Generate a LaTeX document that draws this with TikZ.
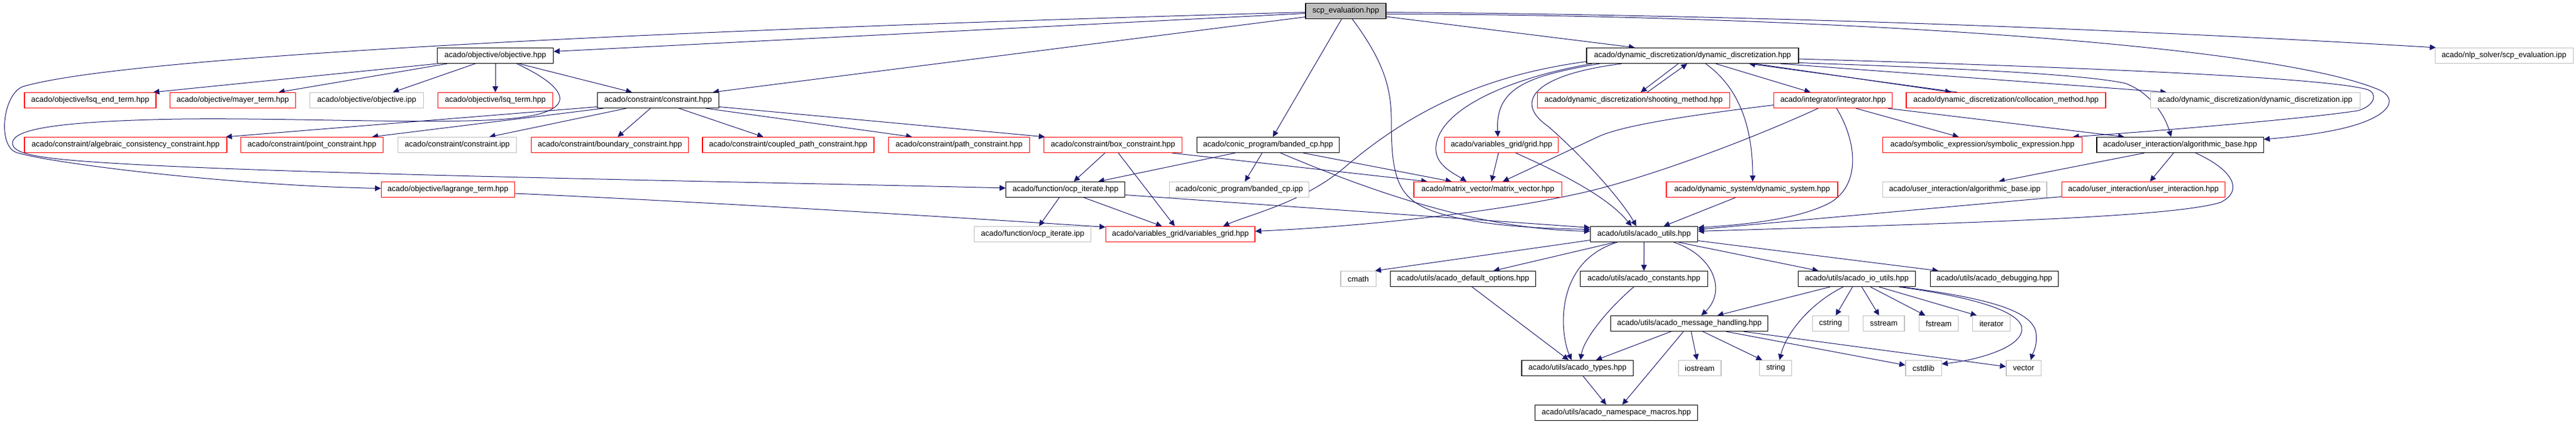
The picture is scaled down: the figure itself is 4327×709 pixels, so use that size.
\documentclass[tikz,border=0pt]{standalone}
\usepackage{fontspec}
\setmainfont{Liberation Sans}
\usetikzlibrary{arrows.meta,backgrounds}
\definecolor{edgec}{HTML}{191970}
\definecolor{grayc}{HTML}{BFBFBF}
\tikzset{
 nd/.style={draw, rectangle, inner sep=0pt, minimum height=26pt, line width=1.1pt, fill=white, font=\fontsize{13}{15}\selectfont},
 blk/.style={nd, draw=black},
 redn/.style={nd, draw=red},
 gryn/.style={nd, draw=grayc},
 rootn/.style={nd, draw=black, fill=grayc},
 e/.style={draw=edgec, line width=1pt, -{Triangle[length=10pt,width=9.5pt]}},
}
\begin{document}
\begin{tikzpicture}[x=1pt,y=-1pt]
\useasboundingbox (0,0) rectangle (4327,709);
% row 0
\node[rootn, minimum width=135pt] (S) at (2260.5,18.5) {scp\_evaluation.hpp};
% row 1
\node[blk, minimum width=195pt] (O) at (832,93.5) {acado/objective/objective.hpp};
\node[blk, minimum width=356pt] (DD) at (2843,93.5) {acado/dynamic\_discretization/dynamic\_discretization.hpp};
\node[gryn, minimum width=232pt] (SIPP) at (4206,93.5) {acado/nlp\_solver/scp\_evaluation.ipp};
% row 2
\node[redn, minimum width=221pt] (lsqend) at (151.5,168.5) {acado/objective/lsq\_end\_term.hpp};
\node[redn, minimum width=211pt] (mayer) at (391,168.5) {acado/objective/mayer\_term.hpp};
\node[gryn, minimum width=190.5pt] (objipp) at (616,168.5) {acado/objective/objective.ipp};
\node[redn, minimum width=192.5pt] (lsq) at (832,168.5) {acado/objective/lsq\_term.hpp};
\node[blk, minimum width=204pt] (C) at (1105.5,168.5) {acado/constraint/constraint.hpp};
\node[redn, minimum width=322.5pt] (shoot) at (2744,168.5) {acado/dynamic\_discretization/shooting\_method.hpp};
\node[redn, minimum width=198.5pt] (integ) at (3079,168.5) {acado/integrator/integrator.hpp};
\node[redn, minimum width=335pt] (coll) at (3369.5,168.5) {acado/dynamic\_discretization/collocation\_method.hpp};
\node[gryn, minimum width=352pt] (ddipp) at (3788,168.5) {acado/dynamic\_discretization/dynamic\_discretization.ipp};
% row 3
\node[redn, minimum width=340pt] (alg) at (211,243.5) {acado/constraint/algebraic\_consistency\_constraint.hpp};
\node[redn, minimum width=238.5pt] (point) at (524,243.5) {acado/constraint/point\_constraint.hpp};
\node[gryn, minimum width=199.5pt] (cipp) at (768,243.5) {acado/constraint/constraint.ipp};
\node[redn, minimum width=264pt] (bound) at (1024.5,243.5) {acado/constraint/boundary\_constraint.hpp};
\node[redn, minimum width=288pt] (coupled) at (1324,243.5) {acado/constraint/coupled\_path\_constraint.hpp};
\node[redn, minimum width=236.5pt] (pathc) at (1611,243.5) {acado/constraint/path\_constraint.hpp};
\node[redn, minimum width=232pt] (boxc) at (1869.5,243.5) {acado/constraint/box\_constraint.hpp};
\node[blk, minimum width=239pt] (banded) at (2130,243.5) {acado/conic\_program/banded\_cp.hpp};
\node[redn, minimum width=191pt] (grid) at (2522,243.5) {acado/variables\_grid/grid.hpp};
\node[redn, minimum width=334.5pt] (symb) at (3330,243.5) {acado/symbolic\_expression/symbolic\_expression.hpp};
\node[blk, minimum width=280pt] (algb) at (3662,243.5) {acado/user\_interaction/algorithmic\_base.hpp};
% row 4
\node[redn, minimum width=224pt] (lagr) at (752.4,318.5) {acado/objective/lagrange\_term.hpp};
\node[blk, minimum width=200pt] (ocp) at (1789.7,318.5) {acado/function/ocp\_iterate.hpp};
\node[gryn, minimum width=234.3pt] (bandipp) at (2081.6,318.5) {acado/conic\_program/banded\_cp.ipp};
\node[redn, minimum width=248.7pt] (mv) at (2499.3,318.5) {acado/matrix\_vector/matrix\_vector.hpp};
\node[redn, minimum width=288pt] (dsys) at (2943,318.5) {acado/dynamic\_system/dynamic\_system.hpp};
\node[gryn, minimum width=275.4pt] (algipp) at (3300.3,318.5) {acado/user\_interaction/algorithmic\_base.ipp};
\node[redn, minimum width=274.7pt] (ui) at (3600.4,318.5) {acado/user\_interaction/user\_interaction.hpp};
% row 5
\node[gryn, minimum width=195.8pt] (ocpipp) at (1734.7,393.5) {acado/function/ocp\_iterate.ipp};
\node[redn, minimum width=250.6pt] (vg) at (1982.7,393.5) {acado/variables\_grid/variables\_grid.hpp};
\node[blk, minimum width=180.3pt] (AU) at (2761.6,393.5) {acado/utils/acado\_utils.hpp};
% row 6
\node[gryn, minimum width=59.2pt] (cmath) at (2281.6,468.5) {cmath};
\node[blk, minimum width=244.3pt] (defopt) at (2457.6,468.5) {acado/utils/acado\_default\_options.hpp};
\node[blk, minimum width=213.8pt] (cnst) at (2761.3,468.5) {acado/utils/acado\_constants.hpp};
\node[blk, minimum width=196.8pt] (io) at (3119,468.5) {acado/utils/acado\_io\_utils.hpp};
\node[blk, minimum width=214.7pt] (dbg) at (3350,468.5) {acado/utils/acado\_debugging.hpp};
% row 7
\node[blk, minimum width=263.9pt] (msg) at (2837.7,543.5) {acado/utils/acado\_message\_handling.hpp};
\node[gryn, minimum width=61.1pt] (cstring) at (3074.8,543.5) {cstring};
\node[gryn, minimum width=69.4pt] (sstream) at (3164.3,543.5) {sstream};
\node[gryn, minimum width=66.4pt] (fstream) at (3256.4,543.5) {fstream};
\node[gryn, minimum width=63.1pt] (iterator) at (3345.3,543.5) {iterator};
% row 8
\node[blk, minimum width=187.6pt] (types) at (2649.8,618.5) {acado/utils/acado\_types.hpp};
\node[gryn, minimum width=71.8pt] (iostream) at (2855.1,618.5) {iostream};
\node[gryn, minimum width=54.3pt] (strng) at (2982.7,618.5) {string};
\node[gryn, minimum width=60.1pt] (cstdlib) at (3231,618.5) {cstdlib};
\node[gryn, minimum width=58.2pt] (vect) at (3399.1,618.5) {vector};
% row 9
\node[blk, minimum width=273.4pt] (ns) at (2715,693.5) {acado/utils/acado\_namespace\_macros.hpp};

\begin{scope}[on background layer]
\fill[white] (0,0) rectangle (4327,709);
% scp_evaluation.hpp
\draw[e] ([yshift=-4pt]S.west) -- ([yshift=7pt]O.east);
\draw[e] ([yshift=-10pt]S.west) -- ([xshift=92pt]C.north);
\draw[e] ([yshift=-2pt]S.west) .. controls (1400,42) and (250,85) .. (40,145)
   .. controls (5,155) and (-6,246.7) .. (29,256.7)
   .. controls (99,276.7) and (400,312) .. ([yshift=2pt]lagr.west);
\draw[e] ([xshift=-7pt]S.south) -- ([xshift=8pt]banded.north);
\draw[e] ([xshift=11pt]S.south) .. controls (2318,95) and (2337,140) .. (2337,200)
   .. controls (2337,290) and (2345,330) .. (2400,352)
   .. controls (2471.5,380.6) and (2600,384) .. ([yshift=8pt]AU.west);
\draw[e] ([yshift=-9.5pt]S.east) -- ([xshift=-97pt]DD.north);
\draw[e] ([yshift=-2pt]S.east) .. controls (2900,25) and (3500,45) .. ([xshift=2pt]SIPP.north west);
\draw[e] ([yshift=-5pt]S.east) .. controls (3000,25) and (3800,70) .. (3994,150)
   .. controls (4033,166) and (4015,200) .. (3920,219)
   .. controls (3880,227) and (3840,231) .. ([yshift=9.5pt]algb.east);
% objective.hpp
\draw[e] (O.south west) -- ([xshift=-5pt]lsqend.north east);
\draw[e] ([xshift=-81pt]O.south) -- ([xshift=77pt]mayer.north);
\draw[e] ([xshift=-34pt]O.south) -- ([xshift=44pt]objipp.north);
\draw[e] (O.south) -- (lsq.north);
\draw[e] ([xshift=40pt]O.south) -- ([xshift=-44pt]C.north);
\draw[e] ([xshift=36pt]O.south) .. controls (960,150) and (975,190) .. (850,200)
   .. controls (725,210) and (450,196) .. (268,200.7)
   .. controls (90,205.3) and (22,218) .. (21,240)
   .. controls (20,258) and (60,266) .. (178,273.5)
   .. controls (500,294) and (1300,306) .. ([yshift=2.5pt]ocp.west);
% constraint.hpp
\draw[e] ([yshift=-11pt]C.west) -- ([xshift=-2pt]alg.north east);
\draw[e] ([xshift=-92pt]C.south) -- ([xshift=101pt]point.north);
\draw[e] ([xshift=-53.5pt]C.south) -- ([xshift=54pt]cipp.north);
\draw[e] ([xshift=-13pt]C.south) -- ([xshift=13pt]bound.north);
\draw[e] ([xshift=35pt]C.south) -- ([xshift=-42pt]coupled.north);
\draw[e] ([xshift=80pt]C.south) -- ([xshift=-79pt]pathc.north);
\draw[e] ([yshift=-11pt]C.east) -- ([xshift=2pt]boxc.north west);
% dynamic_discretization.hpp
\draw[e] ([yshift=-10pt]DD.west) .. controls (2480,128) and (2360,195) .. (2260,280)
   .. controls (2190,340) and (2100,360) .. ([xshift=72pt]vg.north);
\draw[e] ([xshift=-169pt]DD.south) .. controls (2540,130) and (2425,180) .. (2413,240)
   .. controls (2405,275) and (2440,290) .. ([xshift=-36pt]mv.north);
\draw[e] ([xshift=-156pt]DD.south) .. controls (2560,128) and (2512,150) .. ([xshift=-6pt]grid.north);
\draw[e] ([xshift=-119pt]DD.south) .. controls (2580,125) and (2540,170) .. (2600,212)
   .. controls (2650,255) and (2720,330) .. ([xshift=-13pt]AU.north);
\draw[e] ([xshift=-24pt]DD.south) -- ([xshift=12pt]shoot.north);
\draw[e] ([xshift=23pt]shoot.north) -- ([xshift=-9pt]DD.south);
\draw[e] ([xshift=22pt]DD.south) .. controls (2925,150) and (2944,220) .. ([xshift=1pt]dsys.north);
\draw[e] ([xshift=39pt]DD.south) -- ([xshift=-38pt]integ.north);
\draw[e] ([xshift=105pt]DD.south) -- ([xshift=-92pt]coll.north);
\draw[e] ([xshift=-82pt]coll.north) -- ([xshift=95pt]DD.south);
\draw[e] ([xshift=148pt]DD.south) -- ([xshift=-149pt]ddipp.north);
\draw[e] ([yshift=-12pt]DD.east) .. controls (3300,115) and (3500,125) .. (3570,140)
   .. controls (3610,155) and (3635,190) .. ([xshift=-15pt]algb.north);
\draw[e] ([yshift=-5.5pt]DD.east) .. controls (3500,113) and (3900,130) .. (3975,150)
   .. controls (3995,155.3) and (3990,178) .. (3960,186)
   .. controls (3870,200) and (3600,222) .. ([xshift=-16pt]symb.north east);
% integrator.hpp
\draw[e] ([yshift=-8pt]integ.west) .. controls (2800,198) and (2720,214) .. (2686,229) -- ([xshift=25pt]mv.north);
\draw[e] ([xshift=-25pt]integ.south) .. controls (2960,225) and (2820,280) .. (2700,313.3)
   .. controls (2560,352) and (2300,380) .. ([yshift=5pt]vg.east);
\draw[e] ([xshift=6pt]integ.south) .. controls (3120,240) and (3125,310) .. (3075,340)
   .. controls (3020,370) and (2920,378) .. ([yshift=11pt]AU.east);
\draw[e] ([xshift=38.5pt]integ.south) -- ([xshift=-40pt]symb.north);
\draw[e] ([xshift=92pt]integ.south) -- ([xshift=-94pt]algb.north);
% algorithmic_base.hpp
\draw[e] ([xshift=-60pt]algb.south) -- ([xshift=57pt]algipp.north);
\draw[e] ([xshift=-11pt]algb.south) -- ([xshift=11pt]ui.north);
\draw[e] ([xshift=26pt]algb.south) .. controls (3750,285) and (3770,320) .. (3730,340)
   .. controls (3650,365) and (3300,375) .. ([yshift=5pt]AU.east);
\draw[e] ([yshift=-12pt]ui.west) -- ([yshift=8pt]AU.east);
% grid, dynamic_system
\draw[e] ([xshift=-5pt]grid.south) -- ([xshift=6pt]mv.north);
\draw[e] ([xshift=24pt]grid.south) .. controls (2620,290) and (2700,330) .. ([xshift=-21pt]AU.north);
\draw[e] ([xshift=-28pt]dsys.south) -- ([xshift=33pt]AU.north);
% box_constraint, banded_cp
\draw[e] ([xshift=-13.5pt]boxc.south) -- ([xshift=14pt]ocp.north);
\draw[e] ([xshift=9pt]boxc.south) -- ([xshift=-9.5pt]vg.north);
\draw[e] ([xshift=99pt]boxc.south) -- ([xshift=-102pt]mv.north);
\draw[e] ([xshift=-55.5pt]banded.south) -- ([xshift=55pt]ocp.north);
\draw[e] ([xshift=-10pt]banded.south) -- ([xshift=9.5pt]bandipp.north);
\draw[e] ([xshift=21pt]banded.south) .. controls (2300,320) and (2480,385) .. ([yshift=5pt]AU.west);
\draw[e] ([xshift=59pt]banded.south) -- ([xshift=-61pt]mv.north);
% ocp_iterate, lagrange
\draw[e] ([xshift=-10.5pt]ocp.south) -- ([xshift=10.5pt]ocpipp.north);
\draw[e] ([xshift=31pt]ocp.south) -- ([xshift=-31pt]vg.north);
\draw[e] ([yshift=-9pt]ocp.east) -- ([yshift=11pt]AU.west);
\draw[e] ([yshift=-6.5pt]lagr.east) .. controls (1200,340) and (1600,365) .. ([yshift=12pt]vg.west);
% acado_utils
\draw[e] ([yshift=-10pt]AU.west) -- ([xshift=-2pt]cmath.north east);
\draw[e] ([xshift=-49pt]AU.south) -- ([xshift=51pt]defopt.north);
\draw[e] ([xshift=-45pt]AU.south) .. controls (2610,440) and (2620,560) .. ([xshift=-10pt]types.north);
\draw[e] (AU.south) -- (cnst.north);
\draw[e] ([xshift=50pt]AU.south) .. controls (2880,430) and (2900,490) .. ([xshift=20pt]msg.north);
\draw[e] ([xshift=58pt]AU.south) -- ([xshift=-64.5pt]io.north);
\draw[e] ([yshift=-11pt]AU.east) -- ([xshift=-94pt]dbg.north);
% lower part
\draw[e] ([xshift=15pt]defopt.south) -- ([xshift=-15pt]types.north);
\draw[e] ([xshift=-17pt]cnst.south) .. controls (2700,520) and (2660,570) .. ([xshift=5pt]types.north);
\draw[e] ([xshift=-31pt]msg.south) -- ([xshift=31pt]types.north);
\draw[e] ([xshift=-10pt]msg.south) -- ([xshift=10pt]ns.north);
\draw[e] ([xshift=3pt]msg.south) -- ([xshift=-4.5pt]iostream.north);
\draw[e] ([xshift=22.7pt]msg.south) -- ([xshift=-22.7pt]strng.north);
\draw[e] ([xshift=61.7pt]msg.south) -- ([yshift=5pt]cstdlib.west);
\draw[e] ([xshift=91pt]msg.south) -- ([yshift=2.5pt]vect.west);
\draw[e] ([xshift=9.5pt]types.south) -- ([xshift=-17pt]ns.north);
\draw[e] ([xshift=-45pt]io.south) -- ([xshift=47pt]msg.north);
\draw[e] ([xshift=-23pt]io.south) .. controls (3040,510) and (3000,560) .. ([xshift=6.5pt]strng.north);
\draw[e] ([xshift=-7.3pt]io.south) -- ([xshift=8.8pt]cstring.north);
\draw[e] ([xshift=8.2pt]io.south) -- ([xshift=-8pt]sstream.north);
\draw[e] ([xshift=22.8pt]io.south) -- ([xshift=-22.5pt]fstream.north);
\draw[e] ([xshift=37.3pt]io.south) -- ([xshift=-25pt]iterator.north);
\draw[e] ([xshift=71pt]io.south) .. controls (3320,500) and (3400,525) .. (3396,555)
   .. controls (3393,585) and (3320,605) .. ([yshift=7pt]cstdlib.east);
\draw[e] ([xshift=76pt]io.south) .. controls (3330,500) and (3415,520) .. (3420,560)
   .. controls (3423,580) and (3414,595) .. ([xshift=12pt]vect.north);
\end{scope}
\end{tikzpicture}
\end{document}
